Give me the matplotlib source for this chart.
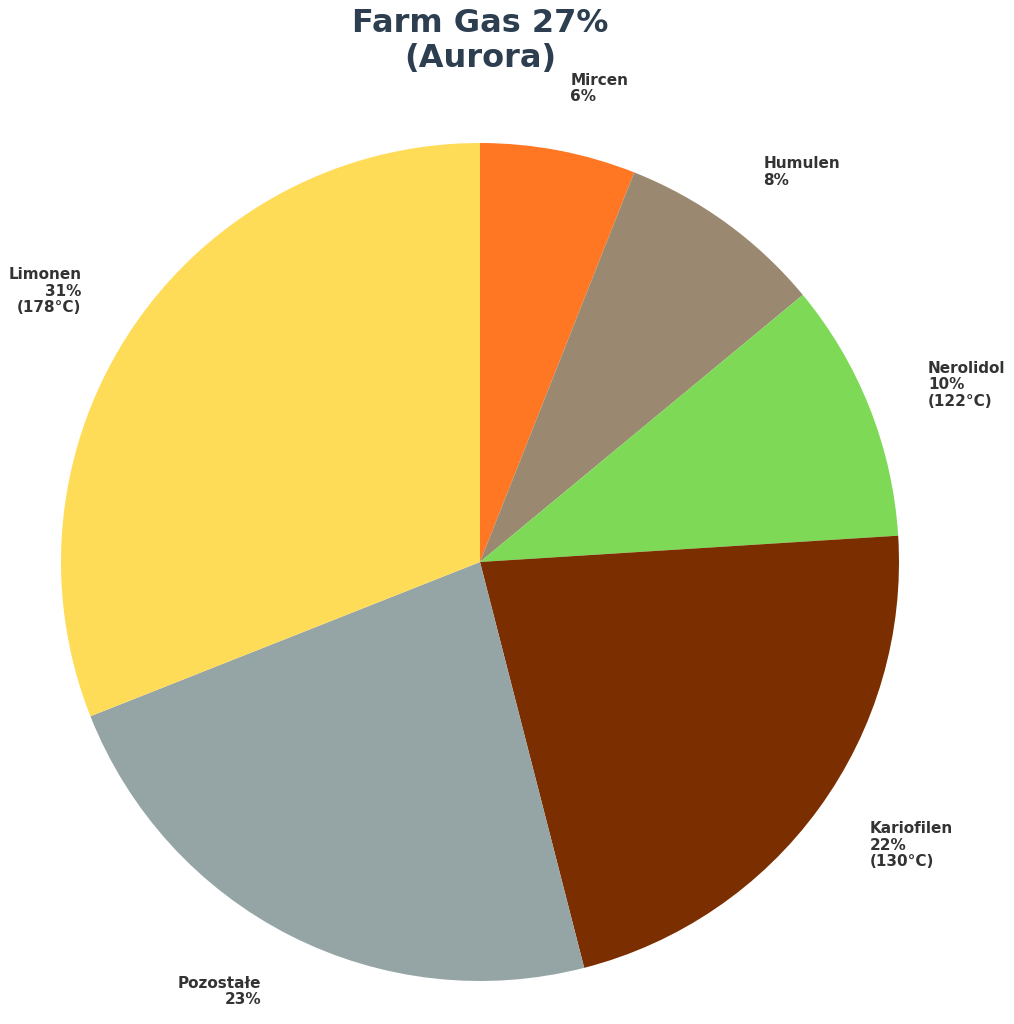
import matplotlib
matplotlib.use("Agg")
import matplotlib.pyplot as plt

# dane wykresu
labels = ["Mircen\n6%", "Humulen\n8%", "Nerolidol\n10%\n(122°C)",
          "Kariofilen\n22%\n(130°C)", "Pozostałe\n23%", "Limonen\n31%\n(178°C)"]
values = [6, 8, 10, 22, 23, 31]
colors = ["#FF7722", "#9A8870", "#7ED957", "#7B2E00", "#95A5A6", "#FFDC57"]
title = "Farm Gas 27%\n(Aurora)"

W, H = 1014, 1024
cx, cy, R = 480, 562, 419  # środek i promień koła w pikselach

fig = plt.figure(figsize=(W / 100, H / 100), dpi=100)
ax = fig.add_axes([0, 0, 1, 1])

wedges, texts = ax.pie(values, labels=labels, colors=colors, startangle=90,
                       counterclock=False, labeldistance=1.15,
                       textprops=dict(fontsize=11, fontweight="bold", color="#333333",
                                      linespacing=1.13))

ax.set_xlim(-cx / R, (W - cx) / R)
ax.set_ylim(-(H - cy) / R, cy / R)
ax.set_aspect("auto")
ax.axis("off")

fig.text(cx / W, 1 - 41 / H, title, ha="center", va="center",
         fontsize=23, fontweight="bold", color="#2C3E50", linespacing=1.13)

fig.savefig("out.png", dpi=100, facecolor="white")
